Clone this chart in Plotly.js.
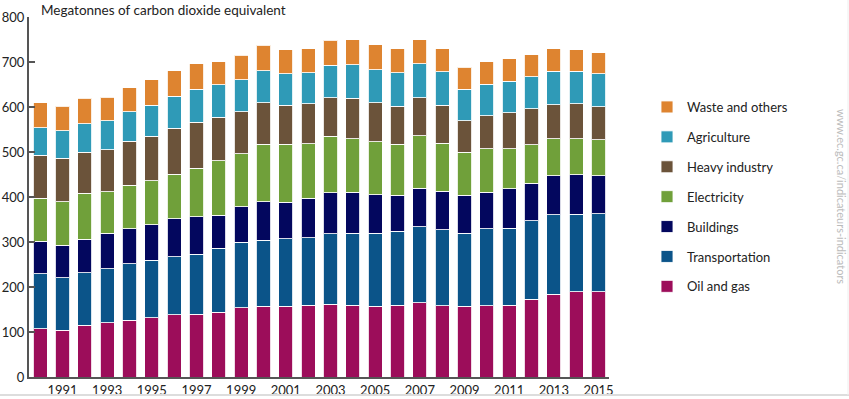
<!DOCTYPE html>
<html>
<head>
<meta charset="utf-8">
<script src="https://cdn.plot.ly/plotly-3.0.1.min.js"></script>
<style>
  html, body { margin: 0; padding: 0; background: #fff; }
  #chart { width: 849px; height: 399px; }
</style>
</head>
<body>
<div id="chart"></div>
<script>
const years = [1990,1991,1992,1993,1994,1995,1996,1997,1998,1999,2000,2001,2002,2003,2004,2005,2006,2007,2008,2009,2010,2011,2012,2013,2014,2015];
const tickYears = [1991,1993,1995,1997,1999,2001,2003,2005,2007,2009,2011,2013,2015];

const oilAndGas      = [107,104,115,121,126,132,138,139,144,154,157,157,159,162,160,157,160,165,158,157,158,160,173,184,189,189];
const transportation = [122,117,117,120,126,127,129,134,142,145,147,150,151,156,160,163,164,169,169,163,171,171,174,177,173,174];
const buildings      = [73,72,74,78,78,79,85,83,74,79,85,81,87,91,91,85,80,85,86,84,82,87,84,86,88,84];
const electricity    = [95,97,102,93,96,98,99,108,121,118,128,129,121,126,118,118,113,117,107,95,96,89,85,82,79,80];
const heavyIndustry  = [96,96,92,93,98,99,102,102,96,94,93,87,89,86,91,86,85,85,84,70,74,80,80,76,78,74];
const agriculture    = [61,61,63,64,66,69,71,73,72,71,71,70,69,72,74,74,74,75,74,71,70,70,71,75,73,73];
const wasteOthers    = [56,55,56,53,53,57,57,57,52,54,56,53,54,55,56,55,53,53,51,48,50,50,49,49,47,47];

const seriesNames = ['Oil and gas','Transportation','Buildings','Electricity','Heavy industry','Agriculture','Waste and others'];
const seriesValues = [oilAndGas, transportation, buildings, electricity, heavyIndustry, agriculture, wasteOthers];
const seriesColors = ['#9c0d5a','#0b5489','#03075e','#70a03a','#6b533a','#2f9ab7','#de8430'];

const FONT = 'Lato, "Open Sans", sans-serif';

const traces = seriesNames.map((name, i) => ({
  type: 'bar',
  name: name,
  x: years,
  y: seriesValues[i],
  legendgroup: name,
  legendrank: 1000 - i,
  marker: { color: seriesColors[i], line: { color: 'rgba(255,255,255,0.85)', width: 1 } },
  hoverinfo: 'x+y+name'
}));

// plot area: x 29..609 (580px), y 17..377 (360px)
const px = x => (x - 29) / 580;
const py = y => (377 - y) / 360;

const layout = {
  width: 849,
  height: 399,
  margin: { l: 29, r: 240, t: 17, b: 22 },
  paper_bgcolor: '#ffffff',
  plot_bgcolor: '#ffffff',
  barmode: 'stack',
  bargap: 0.37,
  font: { family: FONT, size: 13, color: '#222' },
  showlegend: true,
  legend: {
    traceorder: 'grouped',
    tracegroupgap: 10,
    x: px(647), xanchor: 'left',
    y: py(92), yanchor: 'top',
    maxheight: 300,
    font: { family: FONT, size: 13, color: '#222' },
    itemwidth: 30,
    bgcolor: 'rgba(0,0,0,0)'
  },
  xaxis: {
    range: [1989.5, 2015.47],
    tickvals: tickYears,
    ticktext: tickYears.map(String),
    ticks: '',
    showgrid: false,
    zeroline: false,
    showline: true,
    linecolor: '#555',
    linewidth: 2,
    tickfont: { family: FONT, size: 13, color: '#222' }
  },
  yaxis: {
    range: [0, 800],
    tickvals: [0,100,200,300,400,500,600,700,800],
    ticks: 'inside',
    ticklen: 6,
    tickcolor: '#555',
    tickwidth: 1.5,
    showgrid: false,
    zeroline: false,
    showline: true,
    linecolor: '#555',
    linewidth: 2,
    tickfont: { family: FONT, size: 13, color: '#222' }
  },
  annotations: [
    {
      text: 'Megatonnes of carbon dioxide equivalent',
      xref: 'paper', yref: 'paper',
      x: px(39), y: py(0),
      xanchor: 'left', yanchor: 'top',
      showarrow: false,
      font: { family: FONT, size: 13.5, color: '#222' }
    },
    {
      text: 'www.ec.gc.ca/indicateurs-indicators',
      xref: 'paper', yref: 'paper',
      x: px(842), y: py(196),
      xanchor: 'center', yanchor: 'middle',
      textangle: 90,
      showarrow: false,
      font: { family: FONT, size: 11, color: '#bbbbbb' }
    }
  ],
  shapes: [
    { type: 'line', xref: 'paper', yref: 'paper',
      x0: px(0), x1: px(849), y0: py(395), y1: py(395),
      line: { color: '#dddddd', width: 2 } },
    { type: 'line', xref: 'paper', yref: 'paper',
      x0: px(848), x1: px(848), y0: py(395), y1: py(0),
      line: { color: '#eeeeee', width: 1 } }
  ]
};

Plotly.newPlot('chart', traces, layout, { displayModeBar: false, staticPlot: true });
</script>
</body>
</html>
